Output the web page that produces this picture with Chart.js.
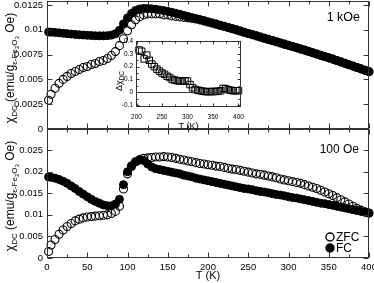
<!DOCTYPE html>
<html>
<head>
<meta charset="utf-8">
<script src="https://cdn.jsdelivr.net/npm/chart.js@4.4.1/dist/chart.umd.min.js"></script>
<style>
  body { margin: 0; background: #fff; }
  #wrap { position: relative; width: 374px; height: 283px; overflow: hidden; }
  canvas { position: absolute; }
</style>
</head>
<body>
<div id="wrap">
  <canvas id="top" width="374" height="136" style="left:0;top:0"></canvas>
  <canvas id="bottom" width="374" height="155" style="left:0;top:128px"></canvas>
  <canvas id="inset" width="140" height="97" style="left:110px;top:35px"></canvas>
</div>
<script>
// Температуры (K)
const temps = [
  2, 5, 10, 15, 20, 25, 30, 35, 40, 45,
  50, 55, 60, 65, 70, 75, 80, 85, 90, 95,
  100, 105, 110, 115, 120, 125, 130, 135, 140, 145,
  150, 155, 160, 165, 170, 175, 180, 185, 190, 195,
  200, 205, 210, 215, 220, 225, 230, 235, 240, 245,
  250, 255, 260, 265, 270, 275, 280, 285, 290, 295,
  300, 305, 310, 315, 320, 325, 330, 335, 340, 345,
  350, 355, 360, 365, 370, 375, 380, 385, 390, 395,
  400,
];

// 1 kOe
const fc1k = [
  0.00978, 0.00976, 0.00973, 0.00969, 0.00965, 0.00961, 0.00957, 0.00953, 0.00950, 0.00947,
  0.00944, 0.00942, 0.00940, 0.00939, 0.00939, 0.00941, 0.00946, 0.00960, 0.00995, 0.01060,
  0.01120, 0.01165, 0.01195, 0.01210, 0.01215, 0.01215, 0.01212, 0.01207, 0.01200, 0.01193,
  0.01185, 0.01176, 0.01166, 0.01156, 0.01145, 0.01134, 0.01123, 0.01112, 0.01101, 0.01090,
  0.01079, 0.01068, 0.01057, 0.01046, 0.01035, 0.01023, 0.01011, 0.00999, 0.00987, 0.00975,
  0.00963, 0.00951, 0.00939, 0.00927, 0.00915, 0.00903, 0.00891, 0.00879, 0.00867, 0.00855,
  0.00843, 0.00831, 0.00819, 0.00807, 0.00795, 0.00782, 0.00769, 0.00756, 0.00743, 0.00730,
  0.00717, 0.00704, 0.00690, 0.00676, 0.00662, 0.00648, 0.00634, 0.00620, 0.00606, 0.00592,
  0.00578,
];
const zfc1k = [
  0.0029, 0.0035, 0.0041, 0.0046, 0.0050, 0.0053, 0.0056, 0.0058, 0.0060, 0.0062,
  0.0063, 0.0065, 0.0066, 0.0068, 0.0069, 0.0071, 0.0074, 0.0078, 0.0084, 0.0091,
  0.0099, 0.0105, 0.0110, 0.0113, 0.0115, 0.0116, 0.0116, 0.0116, 0.0116, 0.0115,
  0.0115, 0.0114, 0.01135, 0.0113, 0.01125, 0.0112, 0.01115, 0.01108, 0.01100, 0.01090,
  0.01079, 0.01068, 0.01057, 0.01046, 0.01035, 0.01023, 0.01011, 0.00999, 0.00987, 0.00975,
  0.00963, 0.00951, 0.00939, 0.00927, 0.00915, 0.00903, 0.00891, 0.00879, 0.00867, 0.00855,
  0.00843, 0.00831, 0.00819, 0.00807, 0.00795, 0.00782, 0.00769, 0.00756, 0.00743, 0.00730,
  0.00717, 0.00704, 0.00690, 0.00676, 0.00662, 0.00648, 0.00634, 0.00620, 0.00606, 0.00592,
  0.00578,
];

// 100 Oe
const fc100 = [
  0.0188, 0.0187, 0.0185, 0.0182, 0.0178, 0.0173, 0.0167, 0.0161, 0.0154, 0.0148,
  0.0142, 0.0136, 0.0131, 0.0127, 0.0123, 0.0121, 0.0121, 0.0125, 0.0136, 0.0170,
  0.0200, 0.0214, 0.0223, 0.0227, 0.0226, 0.0218, 0.0211, 0.0207, 0.0205, 0.0203,
  0.0201, 0.0199, 0.0197, 0.0195, 0.0192, 0.0190, 0.0188, 0.0185, 0.0183, 0.0181,
  0.0179, 0.0177, 0.0175, 0.0173, 0.0171, 0.0169, 0.0167, 0.0165, 0.0163, 0.0161,
  0.0160, 0.0158, 0.0156, 0.0154, 0.0153, 0.0151, 0.0149, 0.0147, 0.0146, 0.0144,
  0.0142, 0.0140, 0.0139, 0.0137, 0.0135, 0.0133, 0.0131, 0.0129, 0.0127, 0.0126,
  0.0124, 0.0122, 0.0120, 0.0118, 0.0116, 0.0114, 0.0112, 0.0110, 0.0108, 0.0106,
  0.0104,
];
const zfc100 = [
  0.0015, 0.0030, 0.0043, 0.0055, 0.0065, 0.0073, 0.0080, 0.0086, 0.0090, 0.0093,
  0.0095, 0.0096, 0.0097, 0.0098, 0.0099, 0.0100, 0.0103, 0.0108, 0.0120, 0.0160,
  0.0195, 0.0212, 0.0223, 0.0228, 0.0231, 0.0232, 0.0233, 0.0234, 0.0234, 0.0235,
  0.0234, 0.0233, 0.0231, 0.0229, 0.0227, 0.0225, 0.0223, 0.0221, 0.0219, 0.0218,
  0.0216, 0.0215, 0.0213, 0.0212, 0.0210, 0.0208, 0.0206, 0.0205, 0.0203, 0.0201,
  0.0199, 0.0197, 0.0195, 0.0194, 0.0192, 0.0190, 0.0188, 0.0186, 0.0183, 0.0181,
  0.0179, 0.0177, 0.0175, 0.0173, 0.0170, 0.0167, 0.0164, 0.0161, 0.0157, 0.0153,
  0.0149, 0.0145, 0.0140, 0.0135, 0.0130, 0.0125, 0.0120, 0.0115, 0.0111, 0.0107,
  0.0104,
];

// Вставка: разность FC - ZFC
const insetT = [
  205, 210, 215, 220, 225, 230, 235, 240, 245, 250,
  255, 260, 265, 270, 275, 280, 285, 290, 295, 300,
  305, 310, 315, 320, 325, 330, 335, 340, 345, 350,
  355, 360, 365, 370, 375, 380, 385, 390, 395, 400,
];
const insetDelta = [
  0.33, 0.32, 0.26, 0.29, 0.25, 0.22, 0.20, 0.18, 0.165, 0.15,
  0.14, 0.125, 0.115, 0.10, 0.095, 0.09, 0.088, 0.088, 0.088, 0.088,
  0.06, 0.035, 0.022, 0.016, 0.012, 0.008, 0.005, 0.005, 0.005, 0.006,
  0.006, 0.008, 0.012, 0.03, 0.028, 0.02, 0.015, 0.012, 0.012, 0.012,
];

// Подписи осей
const xTicks = [0, 50, 100, 150, 200, 250, 300, 350, 400];
const xMinor = [25, 75, 125, 175, 225, 275, 325, 375];
const yTicksTop = [0, 0.0025, 0.005, 0.0075, 0.01, 0.0125];
const yLabelsTop = ["0", "0.0025", "0.005", "0.0075", "0.01", "0.0125"];
const yTicksBottom = [0, 0.005, 0.01, 0.015, 0.02, 0.025];
const yLabelsBottom = ["0", "0.005", "0.01", "0.015", "0.02", "0.025"];
const insetXTicks = [200, 250, 300, 350, 400];
const insetXMinor = [225, 275, 325, 375];
const insetYTicks = [-0.1, 0, 0.1, 0.2, 0.3, 0.4];
const insetYLabels = ["-0.1", "0", "0.1", "0.2", "0.3", "0.4"];
const insetYMinor = [-0.05, 0.05, 0.15, 0.25, 0.35];

const FONT = "'Liberation Sans', Arial, sans-serif";
Chart.defaults.font.family = FONT;
Chart.defaults.color = "#000";

const pts = (xs, ys) => xs.map((x, i) => ({ x, y: ys[i] }));

// Убираем автоматические отступы под крайние подписи
const noPad = (s) => {
  s.paddingTop = 0;
  s.paddingBottom = 0;
  s.paddingLeft = 0;
  s.paddingRight = 0;
};

// Подпись с индексами, повернутая на 90°
function drawRich(ctx, parts, cx, cy) {
  ctx.save();
  ctx.translate(cx, cy);
  ctx.rotate(-Math.PI / 2);
  ctx.textBaseline = "alphabetic";
  ctx.textAlign = "left";
  let w = 0;
  parts.forEach((p) => {
    ctx.font = p.size + "px " + FONT;
    w += ctx.measureText(p.text).width;
  });
  let x = -w / 2;
  parts.forEach((p) => {
    ctx.font = p.size + "px " + FONT;
    ctx.fillText(p.text, x, p.dy);
    x += ctx.measureText(p.text).width;
  });
  ctx.restore();
}

// Рамка, внутренние засечки, надписи и легенда
const framePlugin = {
  id: "frame",
  afterDraw(chart, args, o) {
    const { ctx, chartArea: a } = chart;
    const sx = chart.scales.x;
    const sy = chart.scales.y;
    const L = Math.round(a.left) + 0.5;
    const R = Math.round(a.right) - 0.5;
    const T = Math.round(a.top) + 0.5;
    const B = Math.round(a.bottom) - 0.5;
    const line = (x1, y1, x2, y2) => {
      ctx.beginPath();
      ctx.moveTo(x1, y1);
      ctx.lineTo(x2, y2);
      ctx.stroke();
    };
    ctx.save();
    ctx.strokeStyle = "#333";
    ctx.lineWidth = 1;
    ctx.strokeRect(L, T, R - L, B - T);
    const xt = (vals, len) =>
      vals.forEach((v) => {
        const p = Math.round(sx.getPixelForValue(v)) + 0.5;
        line(p, B, p, B - len);
        line(p, T, p, T + len);
      });
    const yt = (vals, len) =>
      vals.forEach((v) => {
        const p = Math.round(sy.getPixelForValue(v)) + 0.5;
        line(L, p, L + len, p);
        line(R, p, R - len, p);
      });
    xt(o.xMajor || [], o.len);
    xt(o.xMinor || [], o.minorLen);
    yt(o.yMajor || [], o.len);
    yt(o.yMinor || [], o.minorLen);
    if (o.zeroLine) {
      const p = Math.round(sy.getPixelForValue(0)) + 0.5;
      line(L, p, R, p);
    }
    ctx.fillStyle = "#000";
    if (o.note) {
      ctx.font = o.note.size + "px " + FONT;
      ctx.textAlign = "right";
      ctx.textBaseline = "middle";
      ctx.fillText(o.note.text, a.right - o.note.dx, a.top + o.note.dy);
    }
    if (o.legend) {
      ctx.font = o.legend.size + "px " + FONT;
      ctx.textAlign = "left";
      ctx.textBaseline = "middle";
      chart.data.datasets.forEach((ds, i) => {
        const cx = a.right - o.legend.dx;
        const cy = a.bottom - o.legend.dy + i * o.legend.gap;
        ctx.beginPath();
        ctx.arc(cx, cy, 4, 0, Math.PI * 2);
        ctx.fillStyle = ds.backgroundColor;
        ctx.fill();
        ctx.lineWidth = 1.4;
        ctx.strokeStyle = "#000";
        ctx.stroke();
        ctx.fillStyle = "#000";
        ctx.fillText(ds.label, cx + 6, cy + 0.5);
      });
    }
    if (o.ytitle) {
      ctx.fillStyle = "#000";
      drawRich(ctx, o.ytitle.parts, o.ytitle.x, o.ytitle.y);
    }
    ctx.restore();
  },
};

const mainTitle = [
  { text: "χ", size: 12, dy: 4.5 },
  { text: "DC", size: 8, dy: 7.5 },
  { text: " (emu/g", size: 12, dy: 4.5 },
  { text: "ε-Fe", size: 8, dy: 7.5 },
  { text: "2", size: 6, dy: 9.5 },
  { text: "O", size: 8, dy: 7.5 },
  { text: "3", size: 6, dy: 9.5 },
  { text: " Oe)", size: 12, dy: 4.5 },
];

function mainChart(id, o) {
  return new Chart(document.getElementById(id), {
    type: "scatter",
    data: {
      datasets: [
        {
          label: "ZFC",
          data: pts(temps, o.zfc),
          pointRadius: 4,
          backgroundColor: "rgba(255,255,255,0)",
          borderColor: "#000",
          borderWidth: 1.1,
          clip: false,
          order: 1,
        },
        {
          label: "FC",
          data: pts(temps, o.fc),
          pointRadius: 4,
          backgroundColor: "#000",
          borderColor: "#000",
          borderWidth: 1,
          clip: false,
          order: 0,
        },
      ],
    },
    options: {
      responsive: false,
      animation: false,
      events: [],
      layout: { autoPadding: false, padding: { top: 1, right: 5, left: 0, bottom: 0 } },
      plugins: {
        legend: { display: false },
        tooltip: { enabled: false },
        frame: {
          xMajor: xTicks,
          xMinor: xMinor,
          yMajor: o.yTicks,
          len: 5,
          minorLen: 3,
          note: o.note,
          legend: o.legend,
          ytitle: { parts: mainTitle, x: 9, y: o.titleY },
        },
      },
      scales: {
        x: {
          type: "linear",
          min: 0,
          max: 400,
          grid: { display: false, drawTicks: false },
          border: { display: false },
          afterBuildTicks: (s) => {
            s.ticks = xTicks.map((v) => ({ value: v }));
          },
          ticks: { display: o.showX, padding: 4, font: { size: 9.5 }, maxRotation: 0 },
          title: { display: o.showX, text: "T (K)", font: { size: 11 }, padding: 0 },
          afterFit: (s) => {
            s.height = o.xh;
            noPad(s);
          },
        },
        y: {
          min: 0,
          max: o.ymax,
          grid: { display: false, drawTicks: false },
          border: { display: false },
          afterBuildTicks: (s) => {
            s.ticks = o.yTicks.map((v) => ({ value: v }));
          },
          ticks: { padding: 4, font: { size: 9.5 }, callback: (v, i) => o.yLabels[i] },
          afterFit: (s) => {
            s.width = 47;
            noPad(s);
          },
        },
      },
    },
    plugins: [framePlugin],
  });
}

mainChart("top", {
  fc: fc1k,
  zfc: zfc1k,
  ymax: 0.0129,
  yTicks: yTicksTop,
  yLabels: yLabelsTop,
  showX: false,
  xh: 7,
  titleY: 68,
  note: { text: "1 kOe", size: 12.5, dx: 9, dy: 17 },
});

mainChart("bottom", {
  fc: fc100,
  zfc: zfc100,
  ymax: 0.0299,
  yTicks: yTicksBottom,
  yLabels: yLabelsBottom,
  showX: true,
  xh: 25,
  titleY: 68,
  note: { text: "100 Oe", size: 12, dx: 10, dy: 21 },
  legend: { size: 12, dx: 39, dy: 21, gap: 11 },
});

// Вставка
new Chart(document.getElementById("inset"), {
  type: "scatter",
  data: {
    datasets: [
      {
        label: "delta",
        data: pts(insetT, insetDelta),
        pointStyle: "rect",
        pointRadius: 4.6,
        backgroundColor: "rgba(255,255,255,0)",
        borderColor: "#000",
        borderWidth: 1,
        clip: false,
      },
    ],
  },
  options: {
    responsive: false,
    animation: false,
    events: [],
    layout: { autoPadding: false, padding: { top: 6, right: 9, left: 0, bottom: 0 } },
    plugins: {
      legend: { display: false },
      tooltip: { enabled: false },
      frame: {
        xMajor: insetXTicks,
        xMinor: insetXMinor,
        yMajor: insetYTicks,
        yMinor: insetYMinor,
        len: 3,
        minorLen: 2,
        zeroLine: true,
        ytitle: {
          parts: [
            { text: "Δχ", size: 9, dy: 3.5 },
            { text: "DC", size: 6.5, dy: 6 },
          ],
          x: 8,
          y: 46,
        },
      },
    },
    scales: {
      x: {
        type: "linear",
        min: 199,
        max: 405,
        grid: { display: false, drawTicks: false },
        border: { display: false },
        afterBuildTicks: (s) => {
          s.ticks = insetXTicks.map((v) => ({ value: v }));
        },
        ticks: { padding: 6, font: { size: 6.5 }, maxRotation: 0 },
        title: { display: true, text: "T (K)", font: { size: 9 }, padding: 0 },
        afterFit: (s) => {
          s.height = 25;
          noPad(s);
        },
      },
      y: {
        min: -0.115,
        max: 0.4,
        grid: { display: false, drawTicks: false },
        border: { display: false },
        afterBuildTicks: (s) => {
          s.ticks = insetYTicks.map((v) => ({ value: v }));
        },
        ticks: { padding: 3, font: { size: 6.5 }, callback: (v, i) => insetYLabels[i] },
        afterFit: (s) => {
          s.width = 26;
          noPad(s);
        },
      },
    },
  },
  plugins: [framePlugin],
});
</script>
</body>
</html>
